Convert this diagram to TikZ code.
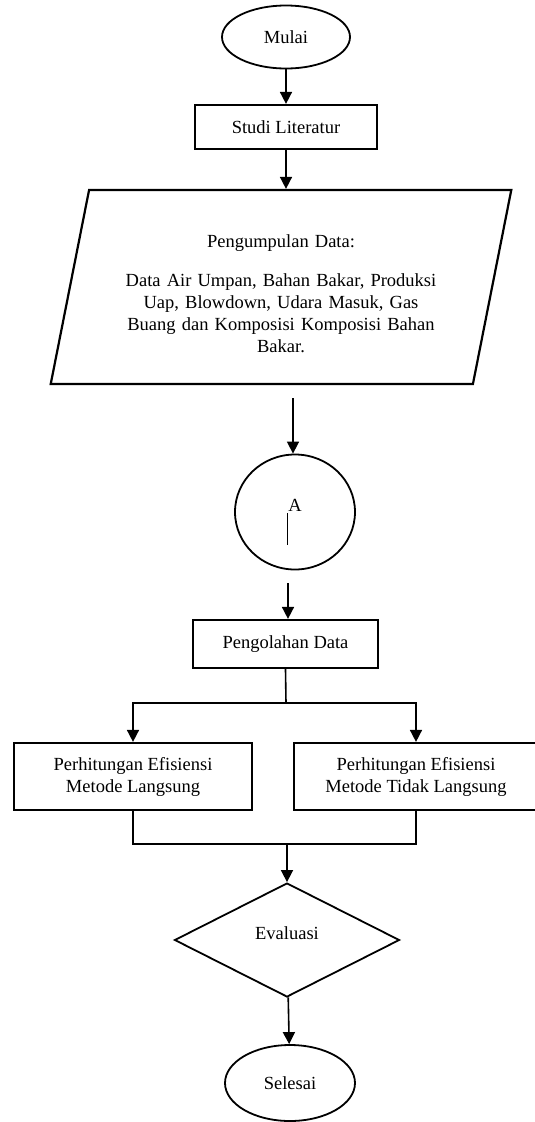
\documentclass[tikz,border=0pt]{standalone}
\usepackage{fontspec}
\setmainfont{Liberation Serif}
\usetikzlibrary{shapes}
\usetikzlibrary{shapes.geometric}
\usetikzlibrary{positioning}
\usetikzlibrary{arrows.meta}
\tikzset{
    terminal/.style = {ellipse, line width=1.8pt, draw=black, inner sep=0pt, align=center},
    proses/.style = {rectangle, line width=2.2pt, draw=black, inner sep=0pt, align=center},
    datanode/.style = {trapezium, trapezium left angle=76, trapezium right angle=104, trapezium stretches=true, line width=2.2pt, draw=black, inner sep=0pt, align=center},
    keputusan/.style = {diamond, aspect=2, line width=1.8pt, draw=black, inner sep=0pt, align=center},
    edgen/.style = {-{Triangle[length=12pt,width=12pt]},line width=1.6pt},
    edgel/.style = {line width=1.6pt},
    every picture/.style={font issue=\fontsize{18.5}{22}},
    font issue/.style={execute at begin picture={#1\selectfont}
  }
}
\begin{document}
\begin{tikzpicture}[x=1pt,y=-1pt]
\useasboundingbox (0,0) rectangle (535,1122);
%
\node[terminal, minimum width=128, minimum height=63] at (286, 37) (mulai) {Mulai};
\node[proses, minimum width=182, minimum height=44] at (286, 127) (studi) {Studi Literatur};
\node[datanode, minimum width=462, minimum height=194, text width=330] at (281, 287) (data) {\rule{0pt}{27pt}Pengumpulan Data:\\[17pt] Data Air Umpan, Bahan Bakar, Produksi\\ Uap, Blowdown, Udara Masuk, Gas\\ Buang dan Komposisi Komposisi Bahan\\ Bakar.};
\node[terminal, minimum width=120, minimum height=115, text depth=14pt] at (295, 512) (konA) {A};
\node[proses, minimum width=185, minimum height=48] at (285.5, 644) (olah) {Pengolahan Data};
\node[proses, minimum width=238, minimum height=67] at (133, 776.5) (langsung) {Perhitungan Efisiensi\\ Metode Langsung};
\node[proses, minimum width=244, minimum height=67] at (416, 776.5) (tdklangsung) {Perhitungan Efisiensi\\ Metode Tidak Langsung};
\node[keputusan, minimum width=225, minimum height=114, text depth=14pt] at (287, 940) (evaluasi) {Evaluasi};
\node[terminal, minimum width=130, minimum height=76] at (290, 1083) (selesai) {Selesai};
%
\coordinate (lepas) at (293, 398);
\coordinate (cabang) at (286, 703);
\coordinate (gabung) at (287, 844);
%
\draw[edgen] (mulai) -- (studi);
\draw[edgen] (studi.south) -- (studi.south |- data.north);
\draw[edgen] (lepas) -- (lepas |- konA.north);
\draw[edgen] (288, 583) -- (olah.north -| 288, 0);
\draw[edgel] (olah.south) -- (cabang);
\draw[edgen] (cabang) -| (langsung.north);
\draw[edgen] (cabang) -| (tdklangsung.north);
\draw[edgel] (langsung.south) |- (gabung) -| (tdklangsung.south);
\draw[edgen] (gabung) -- (evaluasi.north);
\draw[edgen] (evaluasi) -- (selesai);
\draw[line width=1pt] (287, 513) -- (287, 545);

\end{tikzpicture}
\end{document}
